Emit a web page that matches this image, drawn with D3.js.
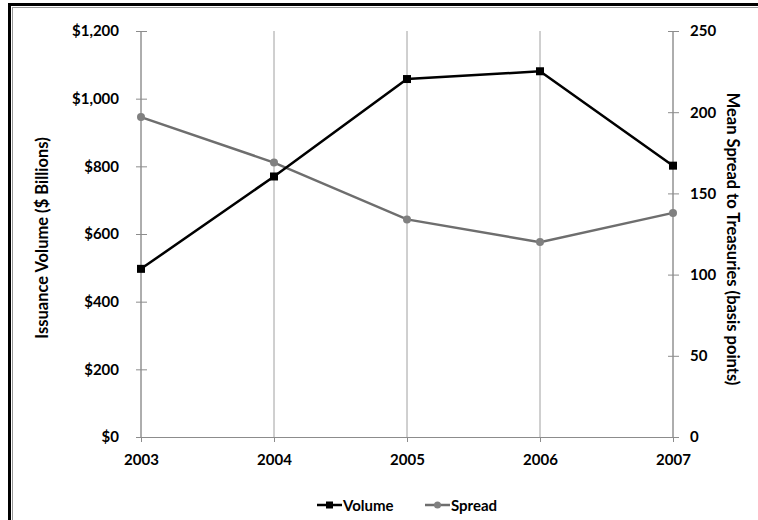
<!DOCTYPE html>
<html>
<head>
<meta charset="utf-8">
<script src="https://cdn.jsdelivr.net/npm/d3@7"></script>
<style>
  body { margin: 0; background: #fff; }
  text { font-family: Lato, "Open Sans", sans-serif; font-weight: bold; fill: #000; }
</style>
</head>
<body>
<div id="chart"></div>
<script>
// data
var years = ["2003", "2004", "2005", "2006", "2007"];
var volume = [497, 770, 1058, 1081, 802];
var spread = [197, 169, 134, 120, 138];
var volumeTicks = [0, 200, 400, 600, 800, 1000, 1200];
var spreadTicks = [0, 50, 100, 150, 200, 250];

var width = 758, height = 520;
var margin = { top: 31, right: 85, bottom: 83, left: 141 };
var plotW = width - margin.left - margin.right;
var plotH = height - margin.top - margin.bottom;

var svg = d3.select("#chart").append("svg")
  .attr("width", width)
  .attr("height", height);

// frame
svg.append("rect")
  .attr("x", 9.5).attr("y", 4.5)
  .attr("width", 760).attr("height", 530)
  .attr("fill", "none").attr("stroke", "#000").attr("stroke-width", 3);
svg.append("rect")
  .attr("x", 12.5).attr("y", 7.5)
  .attr("width", 760).attr("height", 530)
  .attr("fill", "none").attr("stroke", "#999").attr("stroke-width", 1);

var g = svg.append("g")
  .attr("transform", `translate(${margin.left},${margin.top})`);

var x = d3.scalePoint().domain(years).range([0, plotW]);
var yLeft = d3.scaleLinear().domain([0, 1200]).range([plotH, 0]);
var yRight = d3.scaleLinear().domain([0, 250]).range([plotH, 0]);

// vertical gridlines
g.selectAll(".grid")
  .data(years)
  .enter()
  .append("line")
  .attr("class", "grid")
  .attr("x1", d => x(d)).attr("x2", d => x(d))
  .attr("y1", 0).attr("y2", plotH)
  .attr("stroke", "#a0a0a0").attr("stroke-width", 1);

// x axis
var xAxis = g.append("g")
  .attr("transform", `translate(0,${plotH})`)
  .call(d3.axisBottom(x).tickSize(5).tickPadding(12));
xAxis.select(".domain").attr("stroke", "#8c8c8c");
xAxis.selectAll(".tick line").attr("stroke", "#8c8c8c");
xAxis.selectAll("text").style("font-size", "15px");

// left axis
var leftAxis = g.append("g")
  .call(d3.axisLeft(yLeft).tickValues(volumeTicks).tickSize(5).tickPadding(17)
    .tickFormat(d => "$" + d3.format(",")(d)));
leftAxis.select(".domain").attr("stroke", "#8c8c8c").attr("d", `M0,${plotH}V0`);
leftAxis.selectAll(".tick line").attr("stroke", "#8c8c8c").attr("x1", 6).attr("x2", -5);
leftAxis.selectAll("text").style("font-size", "15px");

// right axis
var rightAxis = g.append("g")
  .attr("transform", `translate(${plotW},0)`)
  .call(d3.axisRight(yRight).tickValues(spreadTicks).tickSize(5).tickPadding(12));
rightAxis.select(".domain").attr("stroke", "#8c8c8c").attr("d", `M0,${plotH}V0`);
rightAxis.selectAll(".tick line").attr("stroke", "#8c8c8c").attr("x1", -5).attr("x2", 6);
rightAxis.selectAll("text").style("font-size", "15px");

// axis titles
svg.append("text")
  .attr("transform", `translate(48,238) rotate(-90)`)
  .attr("text-anchor", "middle")
  .style("font-size", "16.5px")
  .text("Issuance Volume ($ Billions)");

svg.append("text")
  .attr("transform", `translate(727,239) rotate(90)`)
  .attr("text-anchor", "middle")
  .style("font-size", "16.5px")
  .text("Mean Spread to Treasuries (basis points)");

// spread line
var spreadLine = d3.line()
  .x((d, i) => x(years[i]))
  .y(d => yRight(d));
g.append("path")
  .datum(spread)
  .attr("d", spreadLine)
  .attr("fill", "none")
  .attr("stroke", "#6e6e6e")
  .attr("stroke-width", 2.5);
g.selectAll(".spread-dot")
  .data(spread)
  .enter()
  .append("circle")
  .attr("class", "spread-dot")
  .attr("cx", (d, i) => x(years[i]))
  .attr("cy", d => yRight(d))
  .attr("r", 4)
  .attr("fill", "#808080");

// volume line
var volumeLine = d3.line()
  .x((d, i) => x(years[i]))
  .y(d => yLeft(d));
g.append("path")
  .datum(volume)
  .attr("d", volumeLine)
  .attr("fill", "none")
  .attr("stroke", "#000")
  .attr("stroke-width", 2.5);
g.selectAll(".volume-dot")
  .data(volume)
  .enter()
  .append("rect")
  .attr("class", "volume-dot")
  .attr("x", (d, i) => x(years[i]) - 4)
  .attr("y", d => yLeft(d) - 4)
  .attr("width", 8)
  .attr("height", 8)
  .attr("fill", "#000");

// legend
var legend = svg.append("g").attr("transform", "translate(317,505)");
var legendItems = [
  { name: "Volume", color: "#000", dot: "#000", shape: "square", dx: 0 },
  { name: "Spread", color: "#6e6e6e", dot: "#808080", shape: "circle", dx: 108 }
];
legendItems.forEach(function (item) {
  var lg = legend.append("g").attr("transform", `translate(${item.dx},0)`);
  lg.append("line")
    .attr("x1", 0).attr("x2", 25)
    .attr("y1", 0).attr("y2", 0)
    .attr("stroke", item.color).attr("stroke-width", 2.5);
  if (item.shape == "square") {
    lg.append("rect").attr("x", 9).attr("y", -3.5).attr("width", 7).attr("height", 7).attr("fill", item.dot);
  } else {
    lg.append("circle").attr("cx", 12.5).attr("cy", 0).attr("r", 3.5).attr("fill", item.dot);
  }
  lg.append("text")
    .attr("x", 26).attr("y", 5.5)
    .style("font-size", "15px")
    .text(item.name);
});
</script>
</body>
</html>
